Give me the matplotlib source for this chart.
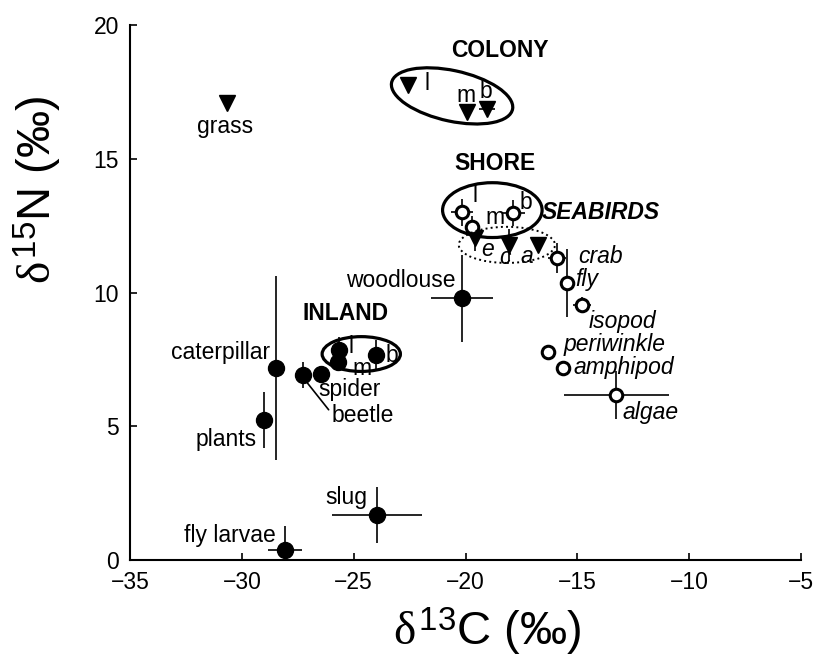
import numpy as np
import matplotlib
matplotlib.use('Agg')
import matplotlib.pyplot as plt
from matplotlib.patches import Ellipse

plt.rcParams['font.family'] = ['Liberation Sans', 'DejaVu Sans']
plt.rcParams['mathtext.fontset'] = 'custom'
plt.rcParams['mathtext.rm'] = 'Liberation Sans'
plt.rcParams['mathtext.it'] = 'Liberation Serif'

# terrestrial / inland food items (filled circles)
land_names = ['fly larvae', 'slug', 'plants', 'caterpillar', 'beetle', 'spider',
              'inland l', 'inland m', 'inland b', 'woodlouse']
land_x = [-28.07, -23.95, -29.0, -28.47, -27.26, -26.45, -25.65, -25.7, -23.99, -20.15]
land_y = [0.37, 1.68, 5.23, 7.18, 6.92, 6.95, 7.85, 7.4, 7.66, 9.79]
land_xerr = [0.75, 2.0, 0.0, 0.3, 0.0, 0.0, 0.0, 0.0, 0.0, 1.4]
land_yerr = [0.9, 1.05, 1.05, 3.45, 0.5, 0.3, 0.5, 0.35, 0.55, 1.63]

# marine items and shore sites (open circles)
sea_names = ['shore l', 'shore m', 'shore b', 'crab', 'fly', 'isopod',
             'periwinkle', 'amphipod', 'algae']
sea_x = [-20.15, -19.7, -17.86, -15.9, -15.45, -14.78, -16.3, -15.63, -13.25]
sea_y = [13.0, 12.45, 12.97, 11.29, 10.35, 9.53, 7.78, 7.18, 6.17]
sea_xerr = [0.5, 0.3, 0.5, 0.4, 0.0, 0.4, 0.0, 0.0, 2.33]
sea_yerr = [0.5, 0.4, 0.5, 0.55, 1.27, 0.3, 0.0, 0.0, 0.9]

# seabirds, colony sites and grass (filled triangles)
tri_names = ['seabird e', 'seabird c', 'seabird a', 'colony l', 'colony m', 'colony b', 'grass']
tri_x = [-19.57, -18.04, -16.74, -22.56, -19.92, -19.03, -30.65]
tri_y = [12.04, 11.78, 11.78, 17.76, 16.75, 16.86, 17.08]
tri_xerr = [0.0, 0.0, 0.0, 0.2, 0.0, 0.35, 0.0]
tri_yerr = [0.5, 0.6, 0.0, 0.2, 0.0, 0.0, 0.0]

fig = plt.figure(figsize=(8.17, 6.66), dpi=100)
ax = fig.add_axes([130 / 817, 1 - 560 / 666, 671 / 817, 535 / 666])

eb = dict(fmt='none', ecolor='black', elinewidth=1.2, capsize=0, zorder=2)
ax.errorbar(land_x, land_y, xerr=land_xerr, yerr=land_yerr, **eb)
ax.errorbar(sea_x, sea_y, xerr=sea_xerr, yerr=sea_yerr, **eb)
ax.errorbar(tri_x, tri_y, xerr=tri_xerr, yerr=tri_yerr, **eb)

ax.plot(tri_x, tri_y, 'v', ms=11, color='black', zorder=3)
ax.plot(land_x, land_y, 'o', ms=11.5, color='black', zorder=4)
ax.plot(sea_x, sea_y, 'o', ms=9, mfc='white', mec='black', mew=2.2, zorder=5)

# group ellipses
ax.add_patch(Ellipse((-20.6, 17.35), 5.5, 1.9, angle=-10, fill=False, lw=2.3, zorder=6))
ax.add_patch(Ellipse((-18.8, 13.08), 4.45, 2.05, fill=False, lw=2.3, zorder=6))
ax.add_patch(Ellipse((-18.15, 11.78), 4.3, 1.35, fill=False, lw=1.4, ls=':', zorder=6))
ax.add_patch(Ellipse((-24.66, 7.7), 3.5, 1.3, fill=False, lw=2.3, zorder=6))

fs = 16.5
# item labels
ax.text(-30.75, 16.19, 'grass', fontsize=fs, ha='center', va='center')
ax.text(-20.46, 10.43, 'woodlouse', fontsize=fs, ha='right', va='center')
ax.text(-28.75, 7.74, 'caterpillar', fontsize=fs, ha='right', va='center')
ax.text(-29.32, 4.49, 'plants', fontsize=fs, ha='right', va='center')
ax.text(-28.5, 0.93, 'fly larvae', fontsize=fs, ha='right', va='center')
ax.text(-24.4, 2.32, 'slug', fontsize=fs, ha='right', va='center')
ax.text(-25.2, 6.38, 'spider', fontsize=fs, ha='center', va='center')
ax.annotate('beetle', xy=(-27.1, 6.65), xytext=(-24.6, 5.4), fontsize=fs,
            ha='center', va='center',
            arrowprops=dict(arrowstyle='-', lw=1.2, color='black',
                            shrinkA=0, shrinkB=0, relpos=(0, 0.6)))

ax.text(-14.96, 11.36, 'crab', fontsize=fs, style='italic', ha='left', va='center')
ax.text(-15.1, 10.47, 'fly', fontsize=fs, style='italic', ha='left', va='center')
ax.text(-14.5, 8.93, 'isopod', fontsize=fs, style='italic', ha='left', va='center')
ax.text(-15.63, 8.04, 'periwinkle', fontsize=fs, style='italic', ha='left', va='center')
ax.text(-15.18, 7.21, 'amphipod', fontsize=fs, style='italic', ha='left', va='center')
ax.text(-12.99, 5.5, 'algae', fontsize=fs, style='italic', ha='left', va='center')

# group names
ax.text(-18.45, 19.03, 'COLONY', fontsize=fs, weight='bold', ha='center', va='center')
ax.text(-18.67, 14.84, 'SHORE', fontsize=fs, weight='bold', ha='center', va='center')
ax.text(-13.93, 13.0, 'SEABIRDS', fontsize=fs, weight='bold', style='italic',
        ha='center', va='center')
ax.text(-25.38, 9.23, 'INLAND', fontsize=fs, weight='bold', ha='center', va='center')

# site letters
for tx, ty, s in [(-21.71, 17.83, 'l'), (-19.97, 17.38, 'm'), (-19.07, 17.5, 'b'),
                  (-19.56, 13.64, 'l'), (-18.67, 12.79, 'm'), (-17.28, 13.35, 'b'),
                  (-25.12, 7.98, 'l'), (-24.62, 7.17, 'm'), (-23.28, 7.66, 'b')]:
    ax.text(tx, ty, s, fontsize=fs, ha='center', va='center', zorder=7)
for tx, ty, s in [(-19.03, 11.59, 'e'), (-18.22, 11.29, 'c'), (-17.24, 11.36, 'a')]:
    ax.text(tx, ty, s, fontsize=fs, style='italic', ha='center', va='center', zorder=7)

ax.set_xlim(-35, -5)
ax.set_ylim(0, 20)
ax.set_xticks([-35, -30, -25, -20, -15, -10, -5])
ax.set_yticks([0, 5, 10, 15, 20])
ax.spines['top'].set_visible(False)
ax.spines['right'].set_visible(False)
ax.spines['left'].set_linewidth(1.5)
ax.spines['bottom'].set_linewidth(1.5)
ax.tick_params(direction='in', length=5, width=1.2, labelsize=16.5, pad=8)

fig.text(487 / 817, 1 - 632 / 666, r'$\delta^{13}$C (‰)', fontsize=34,
         ha='center', va='center')
fig.text(38 / 817, 1 - 190 / 666, r'$\delta^{15}$N (‰)', fontsize=34,
         ha='center', va='center', rotation=90)

fig.savefig('out.png', dpi=100)
